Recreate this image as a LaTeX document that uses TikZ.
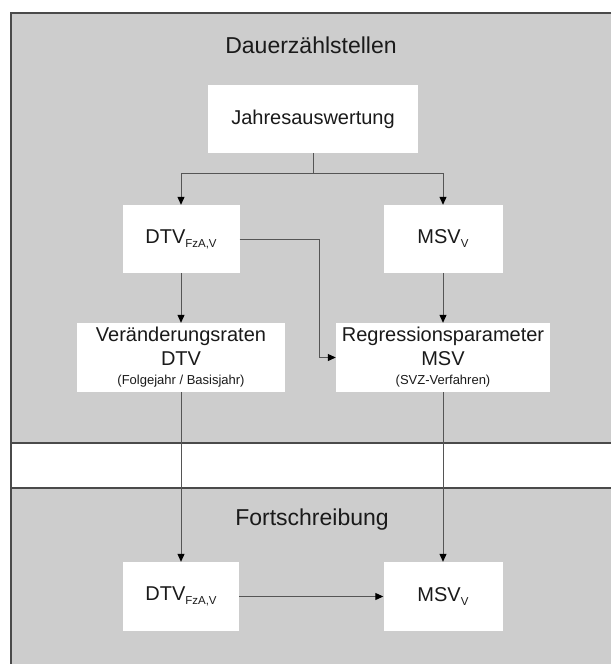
\documentclass[tikz,border=0pt]{standalone}
\usepackage{fontspec}
\setmainfont{Liberation Sans}
\usetikzlibrary{arrows.meta}
\definecolor{bggray}{HTML}{CDCDCD}
\definecolor{framegray}{HTML}{4A4A4A}
\definecolor{linegray}{HTML}{555555}
\definecolor{txt}{HTML}{1A1A1A}
\newcommand{\subtxt}[1]{\raisebox{-4pt}{\fontsize{11.5}{12}\selectfont #1}}
\begin{document}
\begin{tikzpicture}[x=1pt,y=-1pt,
  box/.style={fill=white, draw=none, inner sep=0pt, text=txt, align=center,
              font=\fontsize{20}{24}\selectfont},
  title/.style={inner sep=0pt, text=txt, font=\fontsize{23}{27}\selectfont},
  conn/.style={draw=linegray, line width=1pt},
  arr/.style={conn, -{Triangle[length=8pt,width=7pt,color=black]}}]
\useasboundingbox (0,0) rectangle (611,664);
\fill[white] (0,0) rectangle (611,664);
\fill[bggray] (11,13) rectangle (611,664);
\fill[white] (11,443) rectangle (611,488);
\draw[framegray, line width=1.3pt] (11,443) -- (611,443);
\draw[framegray, line width=1.3pt] (11,488) -- (611,488);
\draw[framegray, line width=2pt] (611,13) -- (11,13) -- (11,664);

\node[title] (t1) at (311,45) {Dauerzählstellen};
\node[title] (t2) at (312,520) {Fortschreibung};

\node[box, minimum width=210pt, minimum height=68pt] (jahr) at (313,119) {Jahresauswertung};
\node[box, minimum width=117pt, minimum height=68pt] (dtv1) at (181,239) {DTV\subtxt{FzA,V}};
\node[box, minimum width=119pt, minimum height=68pt] (msv1) at (443,239) {MSV\subtxt{V}};
\node[box, minimum width=208pt, minimum height=69pt] (ver) at (181,357.5)
  {Veränderungsraten\\DTV\\[-5pt]{\fontsize{13}{15}\selectfont (Folgejahr / Basisjahr)}};
\node[box, minimum width=214pt, minimum height=69pt] (reg) at (443,357.5)
  {Regressionsparameter\\MSV\\[-5pt]{\fontsize{13}{15}\selectfont (SVZ-Verfahren)}};
\node[box, minimum width=116pt, minimum height=69pt] (dtv2) at (181,596.5) {DTV\subtxt{FzA,V}};
\node[box, minimum width=119pt, minimum height=69pt] (msv2) at (443,596.5) {MSV\subtxt{V}};

\coordinate (br) at (313,173);
\coordinate (kink) at (319,239);
\draw[conn] (jahr.south) -- (br);
\draw[arr] (br) -| (dtv1.north);
\draw[arr] (br) -| (msv1.north);
\draw[arr] (dtv1.south) -- (ver.north);
\draw[arr] (msv1.south) -- (reg.north);
\draw[arr] (dtv1.east) -- (kink) |- (reg.west);
\draw[arr] (ver.south) -- (dtv2.north);
\draw[arr] (reg.south) -- (msv2.north);
\draw[arr] (dtv2.east) -- (msv2.west);
\end{tikzpicture}
\end{document}
